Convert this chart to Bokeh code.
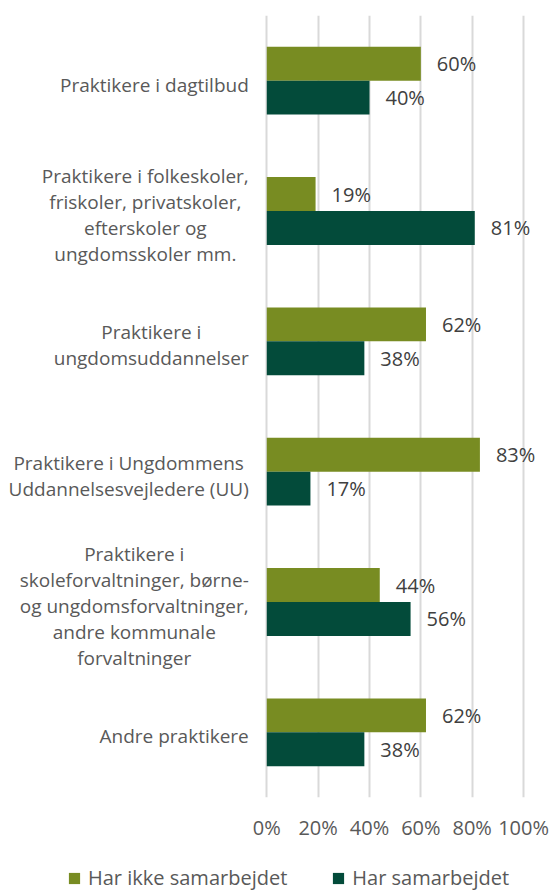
from bokeh.plotting import figure
from bokeh.layouts import column
from bokeh.models import (FactorRange, Range1d, FixedTicker, ColumnDataSource,
                          Legend, LegendItem)
from bokeh.transform import dodge
from bokeh.core.properties import value
from bokeh.embed import file_html
from bokeh.resources import INLINE

# ---------------- data ----------------
categories = [
    "Praktikere i dagtilbud",
    "Praktikere i folkeskoler,\nfriskoler, privatskoler,\nefterskoler og\nungdomsskoler mm.",
    "Praktikere i\nungdomsuddannelser",
    "Praktikere i Ungdommens\nUddannelsesvejledere (UU)",
    "Praktikere i\nskoleforvaltninger, børne-\nog ungdomsforvaltninger,\nandre kommunale\nforvaltninger",
    "Andre praktikere",
]
har_ikke_samarbejdet = [60, 19, 62, 83, 44, 62]
har_samarbejdet = [40, 81, 38, 17, 56, 38]
series_names = ["Har ikke samarbejdet", "Har samarbejdet"]
tick_values = [0, 20, 40, 60, 80, 100]
tick_labels = ["0%", "20%", "40%", "60%", "80%", "100%"]

# ---------------- style ----------------
GREEN = "#788C22"
DARK = "#034B3A"
FONT = "Open Sans"

src = ColumnDataSource(dict(
    cat=categories,
    v1=har_ikke_samarbejdet,
    v2=har_samarbejdet,
    t1=[f"{v}%" for v in har_ikke_samarbejdet],
    t2=[f"{v}%" for v in har_samarbejdet],
    zero=[0] * len(categories),
))

p = figure(
    y_range=FactorRange(*reversed(categories)),
    x_range=Range1d(-103.7, 110.1),
    width=549, height=845,
    min_border_left=0, min_border_right=0, min_border_top=15, min_border_bottom=48,
    output_backend="svg", toolbar_location=None,
)
p.outline_line_color = None
p.background_fill_color = None
p.border_fill_color = None
p.yaxis.visible = False
p.ygrid.grid_line_color = None

p.xaxis.ticker = FixedTicker(ticks=tick_values)
p.xaxis.major_label_overrides = dict(zip(tick_values, tick_labels))
p.xaxis.axis_line_color = None
p.xaxis.major_tick_line_color = None
p.xaxis.minor_tick_line_color = None
p.xaxis.major_tick_out = 0
p.xaxis.major_tick_in = 0
p.xaxis.major_label_standoff = 16
p.xaxis.major_label_text_font = FONT
p.xaxis.major_label_text_font_size = "20px"
p.xaxis.major_label_text_color = "#595959"

p.xgrid.ticker = FixedTicker(ticks=tick_values)
p.xgrid.grid_line_color = "#D9D9D9"
p.xgrid.grid_line_width = 2

OFF = 0.13
H = 0.26
p.hbar(y=dodge("cat", OFF, range=p.y_range), left=0, right="v1", height=H,
       fill_color=GREEN, line_color=None, source=src)
p.hbar(y=dodge("cat", -OFF, range=p.y_range), left=0, right="v2", height=H,
       fill_color=DARK, line_color=None, source=src)

p.text(x="v1", y=dodge("cat", OFF, range=p.y_range), text="t1", x_offset=16,
       text_align="left", text_baseline="middle", text_font=value(FONT),
       text_font_size="20px", text_color="#404040", source=src)
p.text(x="v2", y=dodge("cat", -OFF, range=p.y_range), text="t2", x_offset=16,
       text_align="left", text_baseline="middle", text_font=value(FONT),
       text_font_size="20px", text_color="#404040", source=src)

p.text(x="zero", y="cat", text="cat", x_offset=-18, y_offset=4, anchor="center_right",
       text_align="center", text_baseline="middle", text_line_height=1.0,
       text_font=value(FONT), text_font_size="19px", text_color="#595959",
       source=src)

# ---------------- legend strip ----------------
# the same series are drawn here outside the visible range, only to feed the legend swatches
pl = figure(width=549, height=46, x_range=Range1d(-2, -1), y_range=Range1d(-1, 1),
            x_axis_type=None, y_axis_type=None,
            min_border_left=0, min_border_right=0, min_border_top=0, min_border_bottom=0,
            output_backend="svg", toolbar_location=None)
pl.outline_line_color = None
pl.background_fill_color = None
pl.border_fill_color = None
lg1 = pl.hbar(y="zero", left=0, right="v1", height=0.1, fill_color=GREEN,
              line_color=None, source=src)
lg2 = pl.hbar(y="zero", left=0, right="v2", height=0.1, fill_color=DARK,
              line_color=None, source=src)

legend = Legend(
    items=[LegendItem(label=series_names[0], renderers=[lg1], index=0),
           LegendItem(label=series_names[1], renderers=[lg2], index=0)],
    orientation="horizontal", location=(67, 0),
    padding=0, margin=0, spacing=44, label_standoff=7,
    glyph_width=14, glyph_height=14,
    border_line_color=None, background_fill_alpha=0,
    label_text_font=FONT, label_text_font_size="20px", label_text_color="#595959",
)
pl.add_layout(legend)

layout = column(p, pl, spacing=0)
open("out.html", "w").write(file_html(layout, INLINE))
